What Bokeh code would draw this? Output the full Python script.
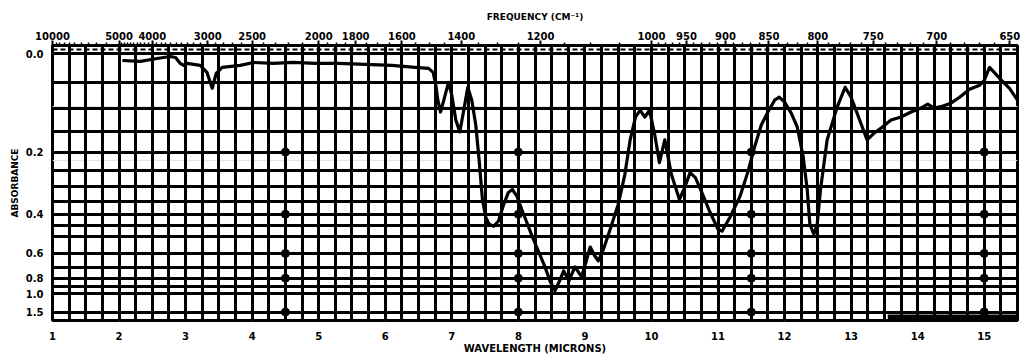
from bokeh.plotting import figure
from bokeh.models import FixedTicker, LinearAxis, CustomJSTickFormatter, Range1d, Grid, Span
from bokeh.embed import file_html
from bokeh.resources import INLINE

# ---- data ----
wavelength_um = [2.05, 2.32, 2.57, 2.77, 2.85, 2.92, 2.97, 3.02, 3.22, 3.32, 3.40, 3.46, 3.55,
                 3.82, 4.02, 4.32, 4.62, 4.95, 5.3, 5.7, 6.1, 6.45, 6.65, 6.72, 6.76, 6.79,
                 6.83, 6.88, 6.95, 7.0, 7.06, 7.12, 7.18, 7.24, 7.30, 7.36, 7.41, 7.46, 7.51,
                 7.56, 7.63, 7.70, 7.78, 7.85, 7.91, 7.98, 8.05, 8.12, 8.2, 8.3, 8.4, 8.48,
                 8.55, 8.62, 8.68, 8.76, 8.85, 8.95, 9.02, 9.08, 9.14, 9.2, 9.28, 9.38, 9.5,
                 9.6, 9.68, 9.76, 9.83, 9.9, 9.97, 10.05, 10.12, 10.2, 10.3, 10.42, 10.5,
                 10.58, 10.66, 10.75, 10.88, 11.0, 11.06, 11.18, 11.33, 11.45, 11.55, 11.65,
                 11.75, 11.85, 11.92, 12.0, 12.1, 12.19, 12.28, 12.34, 12.38, 12.44, 12.49,
                 12.54, 12.64, 12.79, 12.91, 13.0, 13.1, 13.24, 13.35, 13.45, 13.6, 13.75,
                 13.9, 14.05, 14.15, 14.25, 14.38, 14.5, 14.63, 14.78, 14.93, 15.0, 15.08,
                 15.15, 15.23, 15.38, 15.5]
absorbance = [0.0115, 0.0131, 0.0082, 0.0049, 0.0065, 0.0164, 0.0198, 0.0164, 0.0198, 0.0318,
              0.0606, 0.0335, 0.0232, 0.0198, 0.0148, 0.0164, 0.0148, 0.0164, 0.0164, 0.0181,
              0.0198, 0.0232, 0.0249, 0.0318, 0.0551, 0.0834, 0.1075, 0.0834, 0.0496, 0.0737,
              0.1244, 0.151, 0.1034, 0.0587, 0.0834, 0.1353, 0.2203, 0.3434, 0.4128, 0.443,
              0.452, 0.4298, 0.3616, 0.3191, 0.3092, 0.3328, 0.3805, 0.4298, 0.4953, 0.5847,
              0.6974, 0.8386, 0.9527, 0.8277, 0.7307, 0.8277, 0.6974, 0.7862, 0.6517, 0.5605,
              0.6102, 0.6517, 0.5724, 0.466, 0.3616, 0.2624, 0.1696, 0.118, 0.1034, 0.118,
              0.1034, 0.1579, 0.2283, 0.1696, 0.2624, 0.3434, 0.3027, 0.2566, 0.2714, 0.3158,
              0.3923, 0.466, 0.4755, 0.4128, 0.3328, 0.2537, 0.1866, 0.1353, 0.1075, 0.0834,
              0.0776, 0.0873, 0.1096, 0.1397, 0.2123, 0.3092, 0.443, 0.4903, 0.443, 0.3092,
              0.1696, 0.0973, 0.0587, 0.0776, 0.1138, 0.1696, 0.1533, 0.1419, 0.1244, 0.118,
              0.1075, 0.0993, 0.0913, 0.0993, 0.0953, 0.0893, 0.0776, 0.0624, 0.0551, 0.0459,
              0.0232, 0.0318, 0.0423, 0.0606, 0.0834]

bottom_trace_um = [13.55, 15.5]
bottom_trace_abs = [1.96, 1.96]

wavelength_ticks = list(range(1, 16))
frequency_labels = [10000, 5000, 4000, 3000, 2500, 2000, 1800, 1600, 1400, 1200,
                    1000, 950, 900, 850, 800, 750, 700, 650]
absorbance_ticks = [0.0, 0.2, 0.4, 0.6, 0.8, 1.0, 1.5]
absorbance_grid = [0.0, 0.05, 0.1, 0.15, 0.2, 0.25, 0.3, 0.35, 0.4, 0.45, 0.5,
                   0.6, 0.7, 0.8, 0.9, 1.0, 1.5]
marker_um = [4.5, 8.0, 11.5, 15.0]
marker_abs = [0.2, 0.4, 0.6, 0.8, 1.5]

# ---- derived (transmittance is the linear axis of the chart paper) ----
trans = [10 ** (-a) for a in absorbance]
bottom_trans = [10 ** (-a) for a in bottom_trace_abs]

minor_freq = (list(range(9500, 5000, -500)) + list(range(4900, 2000, -100)) +
              list(range(1950, 1000, -50)) + list(range(990, 649, -10)))
minor_freq = [f for f in minor_freq if f not in frequency_labels]

FONT = "DejaVu Sans"

p = figure(width=1024, height=359, x_range=Range1d(1, 15.5), y_range=Range1d(0, 1.03),
           output_backend="svg", toolbar_location=None,
           x_axis_location=None, y_axis_location=None,
           min_border_left=52, min_border_right=7, min_border_top=45, min_border_bottom=39)
p.background_fill_color = "white"
p.border_fill_color = "white"
p.outline_line_color = "black"
p.outline_line_width = 3

# chart-paper grid
vgrid = [1 + 0.25 * i for i in range(0, 59)]
p.add_layout(Grid(dimension=0, ticker=FixedTicker(ticks=vgrid),
                  grid_line_color="black", grid_line_width=3))
p.add_layout(Grid(dimension=1, ticker=FixedTicker(ticks=[10 ** (-a) for a in absorbance_grid]),
                  grid_line_color="black", grid_line_width=3))
p.add_layout(Span(location=1.015, dimension="width", line_color="black", line_width=2,
                  line_dash="5 3"))

# paper markers
mx, my = [], []
for xm in marker_um:
    for am in marker_abs:
        mx.append(xm)
        my.append(10 ** (-am))
p.scatter(mx, my, size=8, color="black")

# spectrum
p.line(wavelength_um, trans, line_color="black", line_width=3.2, line_join="round")
p.line(bottom_trace_um, bottom_trans, line_color="black", line_width=6)

def style(ax):
    ax.axis_line_color = None
    ax.major_label_text_font = FONT
    ax.major_label_text_font_style = "bold"
    ax.major_label_text_color = "black"
    ax.axis_label_text_font = FONT
    ax.axis_label_text_font_style = "bold"
    ax.axis_label_text_color = "black"

xb = LinearAxis(ticker=FixedTicker(ticks=wavelength_ticks), axis_label="WAVELENGTH (MICRONS)")
style(xb)
xb.major_tick_out = 0
xb.major_tick_in = 0
xb.minor_tick_out = 0
xb.major_label_text_font_size = "10px"
xb.major_label_standoff = 11
xb.axis_label_text_font_size = "10px"
xb.axis_label_standoff = 0
p.add_layout(xb, "below")

xt = LinearAxis(ticker=FixedTicker(ticks=[10000.0 / f for f in frequency_labels],
                                   minor_ticks=[10000.0 / f for f in minor_freq]),
                formatter=CustomJSTickFormatter(code="return String(Math.round(10000/tick))"),
                axis_label="FREQUENCY (CM\u207b\u00b9)")
style(xt)
xt.major_tick_out = 5
xt.major_tick_in = 0
xt.minor_tick_out = 3
xt.minor_tick_in = 0
xt.major_tick_line_width = 2
xt.minor_tick_line_width = 1.5
xt.major_label_text_font_size = "10px"
xt.major_label_standoff = 1
xt.axis_label_text_font_size = "9px"
xt.axis_label_standoff = 7
p.add_layout(xt, "above")

yl = LinearAxis(ticker=FixedTicker(ticks=[10 ** (-a) for a in absorbance_ticks]),
                formatter=CustomJSTickFormatter(code="return (-Math.log10(tick)).toFixed(1)"),
                axis_label="ABSORBANCE")
style(yl)
yl.major_tick_out = 0
yl.major_tick_in = 0
yl.minor_tick_out = 0
yl.major_label_text_font_size = "10px"
yl.major_label_standoff = 9
yl.axis_label_text_font_size = "9px"
yl.axis_label_standoff = 3
p.add_layout(yl, "left")

open("out.html", "w").write(file_html(p, INLINE))
